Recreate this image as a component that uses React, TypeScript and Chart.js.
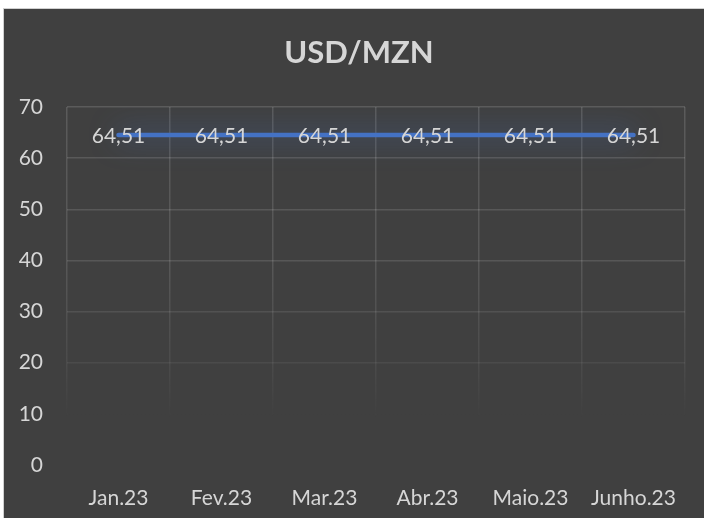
import React, { useEffect, useRef } from "react";
import { Chart, registerables } from "chart.js";

Chart.register(...registerables);

const categories = ["Jan.23", "Fev.23", "Mar.23", "Abr.23", "Maio.23", "Junho.23"];
const usdMzn = [64.51, 64.51, 64.51, 64.51, 64.51, 64.51];
const yTicks = [0, 10, 20, 30, 40, 50, 60, 70];
const titleText = "USD/MZN";

const FONT = "Lato, 'Open Sans', sans-serif";
const TEXT = "#d6d6d6";

function gridGradient(c: any) {
  const chart = c.chart;
  const area = chart.chartArea;
  if (!area) return "rgba(255,255,255,0.13)";
  const g = chart.ctx.createLinearGradient(0, area.top, 0, area.bottom);
  g.addColorStop(0, "rgba(255,255,255,0.14)");
  g.addColorStop(0.45, "rgba(255,255,255,0.12)");
  g.addColorStop(0.72, "rgba(255,255,255,0.06)");
  g.addColorStop(0.87, "rgba(255,255,255,0.0)");
  g.addColorStop(1, "rgba(255,255,255,0.0)");
  return g;
}

const glowPlugin = {
  id: "glow",
  beforeDatasetDraw(chart: any) {
    const ctx = chart.ctx;
    ctx.save();
    ctx.shadowColor = "rgba(68,114,196,0.85)";
    ctx.shadowBlur = 28;
  },
  afterDatasetDraw(chart: any) {
    chart.ctx.restore();
  },
};

const labelsPlugin = {
  id: "dataLabels",
  afterDatasetsDraw(chart: any) {
    const ctx = chart.ctx;
    const meta = chart.getDatasetMeta(0);
    const data = chart.data.datasets[0].data as number[];
    ctx.save();
    ctx.font = `21px ${FONT}`;
    ctx.fillStyle = TEXT;
    ctx.textAlign = "center";
    ctx.textBaseline = "middle";
    meta.data.forEach((pt: any, i: number) => {
      ctx.fillText(data[i].toFixed(2).replace(".", ","), pt.x, pt.y + 1);
    });
    ctx.restore();
  },
};

const titlePlugin = {
  id: "customTitle",
  afterDraw(chart: any) {
    const ctx = chart.ctx;
    ctx.save();
    ctx.font = `bold 31px ${FONT}`;
    ctx.fillStyle = TEXT;
    ctx.textAlign = "center";
    ctx.textBaseline = "middle";
    ctx.fillText(titleText, 355, 44);
    ctx.restore();
  },
};

export default function App() {
  const ref = useRef<HTMLCanvasElement | null>(null);

  useEffect(() => {
    if (!ref.current) return;
    const chart = new Chart(ref.current, {
      type: "line",
      data: {
        labels: categories,
        datasets: [
          {
            data: usdMzn,
            borderColor: "#4472c4",
            borderWidth: 4.5,
            pointRadius: 0,
            borderCapStyle: "round",
            fill: false,
            tension: 0,
          },
        ],
      },
      options: {
        animation: false,
        responsive: false,
        maintainAspectRatio: false,
        layout: { padding: { top: 98, right: 19, bottom: 0, left: 0 } },
        plugins: {
          legend: { display: false },
          title: { display: false },
          tooltip: { enabled: false },
        },
        scales: {
          x: {
            offset: true,
            grid: { offset: true, drawTicks: false, color: gridGradient as any, lineWidth: 1.5 },
            border: { display: false },
            ticks: { color: TEXT, font: { family: FONT, size: 21 }, padding: 21, maxRotation: 0 },
            afterFit(scale: any) {
              scale.height = 53;
            },
          },
          y: {
            min: 0,
            max: 70,
            afterBuildTicks(scale: any) {
              scale.ticks = yTicks.map((v) => ({ value: v }));
            },
            grid: { drawTicks: false, color: gridGradient as any, lineWidth: 1.5 },
            border: { display: false },
            ticks: { color: TEXT, font: { family: FONT, size: 21 }, padding: 24 },
            afterFit(scale: any) {
              scale.width = 63;
            },
          },
        },
      },
      plugins: [glowPlugin, labelsPlugin, titlePlugin],
    });
    return () => chart.destroy();
  }, []);

  return (
    <div style={{ position: "absolute", left: 0, top: 0, width: 704, height: 518, background: "#ffffff", overflow: "hidden" }}>
      <div
        style={{
          position: "absolute",
          left: 3,
          top: 8,
          width: 701,
          height: 510,
          boxSizing: "border-box",
          borderLeft: "1px solid #d0d0d0",
          borderTop: "1px solid #d0d0d0",
          background: "#404040",
        }}
      />
      <canvas ref={ref} width={700} height={509} style={{ position: "absolute", left: 4, top: 9, width: 700, height: 509 }} />
    </div>
  );
}
